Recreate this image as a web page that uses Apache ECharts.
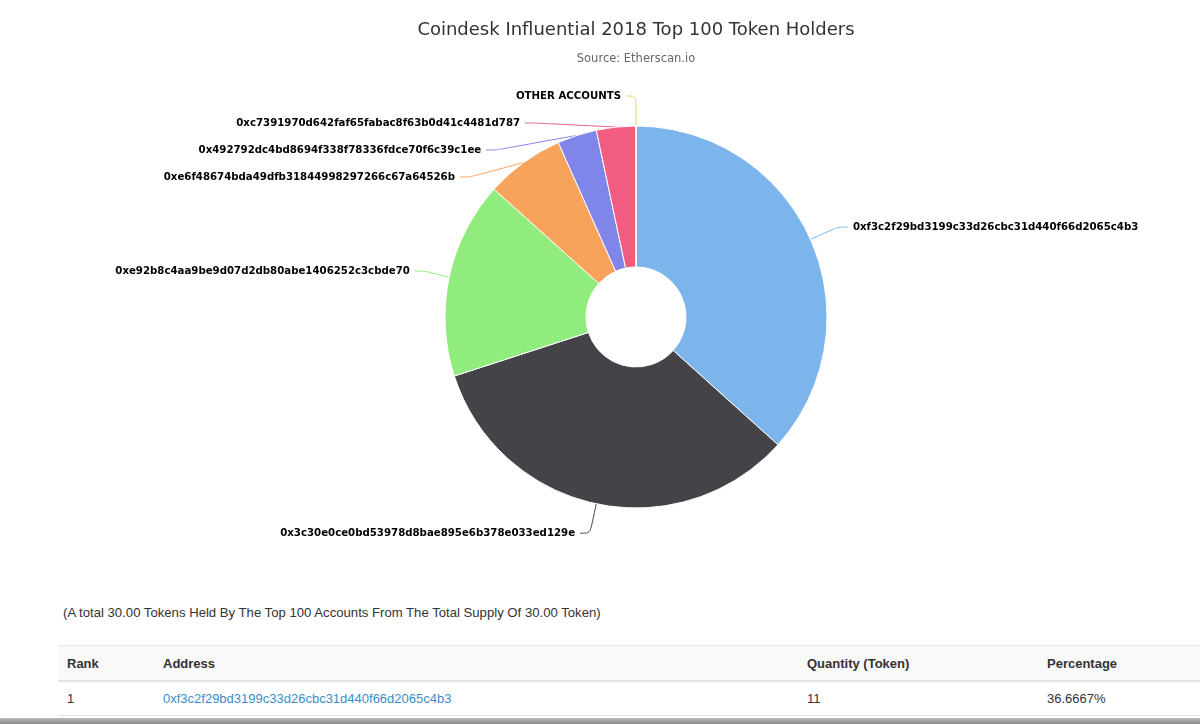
<!DOCTYPE html>
<html>
<head>
<meta charset="utf-8">
<script src="https://cdn.jsdelivr.net/npm/echarts@6/dist/echarts.min.js"></script>
<style>
body{margin:0;background:#fff;width:1200px;height:724px;overflow:hidden;position:relative;font-family:"Liberation Sans",Arial,sans-serif;}
#chart{position:absolute;left:0;top:0;width:1272px;height:590px;}
#total{position:absolute;left:63px;top:605px;font-size:13.15px;color:#333;}
#holders{position:absolute;left:58px;top:645px;width:1142px;border-collapse:collapse;font-size:13px;color:#333;}
#holders th{text-align:left;font-weight:bold;background:#f9f9f9;height:34px;padding:0 0 0 9px;border-top:1px solid #e8e8e8;border-bottom:2px solid #e4e4e4;}
#holders td{height:33px;padding:0 0 0 9px;border-bottom:1px solid #e4e4e4;}
#holders a{color:#3c8dc9;text-decoration:none;}
#bar{position:absolute;left:0;top:718px;width:1200px;height:6px;background:linear-gradient(#bbb,#8a8a8a);}
</style>
</head>
<body>
<div id="chart"></div>
<div id="total">(A total 30.00 Tokens Held By The Top 100 Accounts From The Total Supply Of 30.00 Token)</div>
<table id="holders">
<thead><tr><th style="width:87px">Rank</th><th style="width:635px">Address</th><th style="width:231px">Quantity (Token)</th><th>Percentage</th></tr></thead>
<tbody id="rows"></tbody>
</table>
<div id="bar"></div>
<script>
var holders = [
	'0xf3c2f29bd3199c33d26cbc31d440f66d2065c4b3',
	'0x3c30e0ce0bd53978d8bae895e6b378e033ed129e',
	'0xe92b8c4aa9be9d07d2db80abe1406252c3cbde70',
	'0xe6f48674bda49dfb31844998297266c67a64526b',
	'0x492792dc4bd8694f338f78336fdce70f6c39c1ee',
	'0xc7391970d642faf65fabac8f63b0d41c4481d787',
	'OTHER ACCOUNTS'
]
var tokens = [11, 10, 5, 2, 1, 1, 0]
var colors = ['#7cb5ec', '#434348', '#90ed7d', '#f7a35c', '#8085e9', '#f15c80', '#e4d354']
var total_supply = 30

// table: only first row visible in the shot
var row = document.createElement('tr');
row.innerHTML = '<td>1</td><td><a href="#">' + holders[0] + '</a></td><td>' + tokens[0] + '</td><td>' + (tokens[0] / total_supply * 100).toFixed(4) + '%</td>';
document.getElementById('rows').appendChild(row);

var pie_data = []
for (var i = 0; i < holders.length; i++) {
	pie_data.push({
		name: holders[i],
		value: tokens[i],
		itemStyle: {color: colors[i]},
		labelLine: {lineStyle: {color: colors[i]}}
	})
}

var my_chart = echarts.init(document.getElementById('chart'));
my_chart.setOption({
	animation: false,
	title: {
		text: 'Coindesk Influential 2018 Top 100 Token Holders',
		subtext: 'Source: Etherscan.io',
		left: 'center',
		top: 16,
		itemGap: 14,
		textStyle: {fontFamily: 'DejaVu Sans', fontSize: 18, fontWeight: 'normal', color: '#333'},
		subtextStyle: {fontFamily: 'DejaVu Sans', fontSize: 11.5, color: '#666'}
	},
	series: [{
		type: 'pie',
		center: [636, 317],
		radius: [50, 191],
		startAngle: 90,
		clockwise: true,
		avoidLabelOverlap: true,
		itemStyle: {borderColor: '#fff', borderWidth: 1},
		label: {
			show: true,
			formatter: '{b}',
			fontFamily: 'DejaVu Sans',
			fontSize: 10.2,
			fontWeight: 'bold',
			color: '#000',
			lineHeight: 25
		},
		labelLine: {show: true, length: 30, length2: 10, smooth: 0.3, lineStyle: {width: 1}},
		data: pie_data
	}]
});
</script>
</body>
</html>
